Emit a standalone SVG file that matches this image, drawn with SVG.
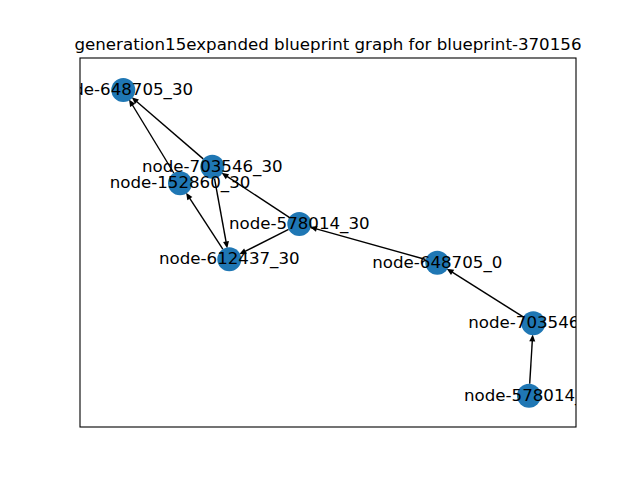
<svg xmlns="http://www.w3.org/2000/svg" width="640" height="480" viewBox="0 0 640 480">
<style>
.edge{stroke:#000;stroke-width:1.4;fill:none;marker-end:url(#ah)}
.node{fill:#1f77b4}
.lbl{font-family:"DejaVu Sans",sans-serif;font-size:16.67px;fill:#000;text-anchor:middle}
.title{font-family:"DejaVu Sans",sans-serif;font-size:16.67px;fill:#000;text-anchor:middle}
</style>
<defs>
<marker id="ah" markerUnits="userSpaceOnUse" markerWidth="8" markerHeight="8" viewBox="0 -4 8 8" refX="0" refY="0" orient="auto" overflow="visible">
<path d="M-0.5,-3 L6.5,0 L-0.5,3 z" fill="#000"/>
</marker>
<clipPath id="ax"><rect x="80" y="58" width="496" height="369"/></clipPath>
</defs>
<rect width="640" height="480" fill="#fff"/>
<text class="title" x="328" y="50">generation15expanded blueprint graph for blueprint-370156</text>
<g clip-path="url(#ax)">
<g id="connectors">
<line class="edge" x1="203.2" y1="158.9" x2="136.6" y2="101.5"/>
<line class="edge" x1="173.8" y1="173.0" x2="132.4" y2="105.0"/>
<line class="edge" x1="289.3" y1="217.4" x2="227.0" y2="176.4"/>
<line class="edge" x1="214.5" y1="178.5" x2="226.1" y2="242.0"/>
<line class="edge" x1="222.8" y1="249.2" x2="189.6" y2="198.1"/>
<line class="edge" x1="288.6" y1="229.4" x2="245.0" y2="251.4"/>
<line class="edge" x1="425.7" y1="259.5" x2="316.3" y2="228.8"/>
<line class="edge" x1="523.2" y1="316.9" x2="452.2" y2="272.1"/>
<line class="edge" x1="529.7" y1="383.7" x2="532.3" y2="340.9"/>
</g>
<g id="n648705_30"><circle class="node" cx="123.3" cy="90" r="12"/></g>
<g id="n703546_30"><circle class="node" cx="212.3" cy="166.7" r="12"/></g>
<g id="n152860_30"><circle class="node" cx="180" cy="183.3" r="12"/></g>
<g id="n578014_30"><circle class="node" cx="299.3" cy="224" r="12"/></g>
<g id="n612437_30"><circle class="node" cx="229.3" cy="259.3" r="12"/></g>
<g id="n648705_0"><circle class="node" cx="437.3" cy="262.7" r="12"/></g>
<g id="n703546"><circle class="node" cx="533.3" cy="323.3" r="12"/></g>
<g id="n578014"><circle class="node" cx="529" cy="395.7" r="12"/></g>
<g id="labels">
<text class="lbl" x="122.8" y="95">node-648705_30</text>
<text class="lbl" x="212.3" y="171.7">node-703546_30</text>
<text class="lbl" x="180" y="188.3">node-152860_30</text>
<text class="lbl" x="299.3" y="229">node-578014_30</text>
<text class="lbl" x="229.3" y="264.3">node-612437_30</text>
<text class="lbl" x="437.3" y="267.7">node-648705_0</text>
<text class="lbl" x="533.3" y="328.3">node-703546_0</text>
<text class="lbl" x="529" y="400.7">node-578014_0</text>
</g>
</g>
<rect x="80" y="58" width="496" height="369" fill="none" stroke="#000" stroke-width="1.1"/>
</svg>
